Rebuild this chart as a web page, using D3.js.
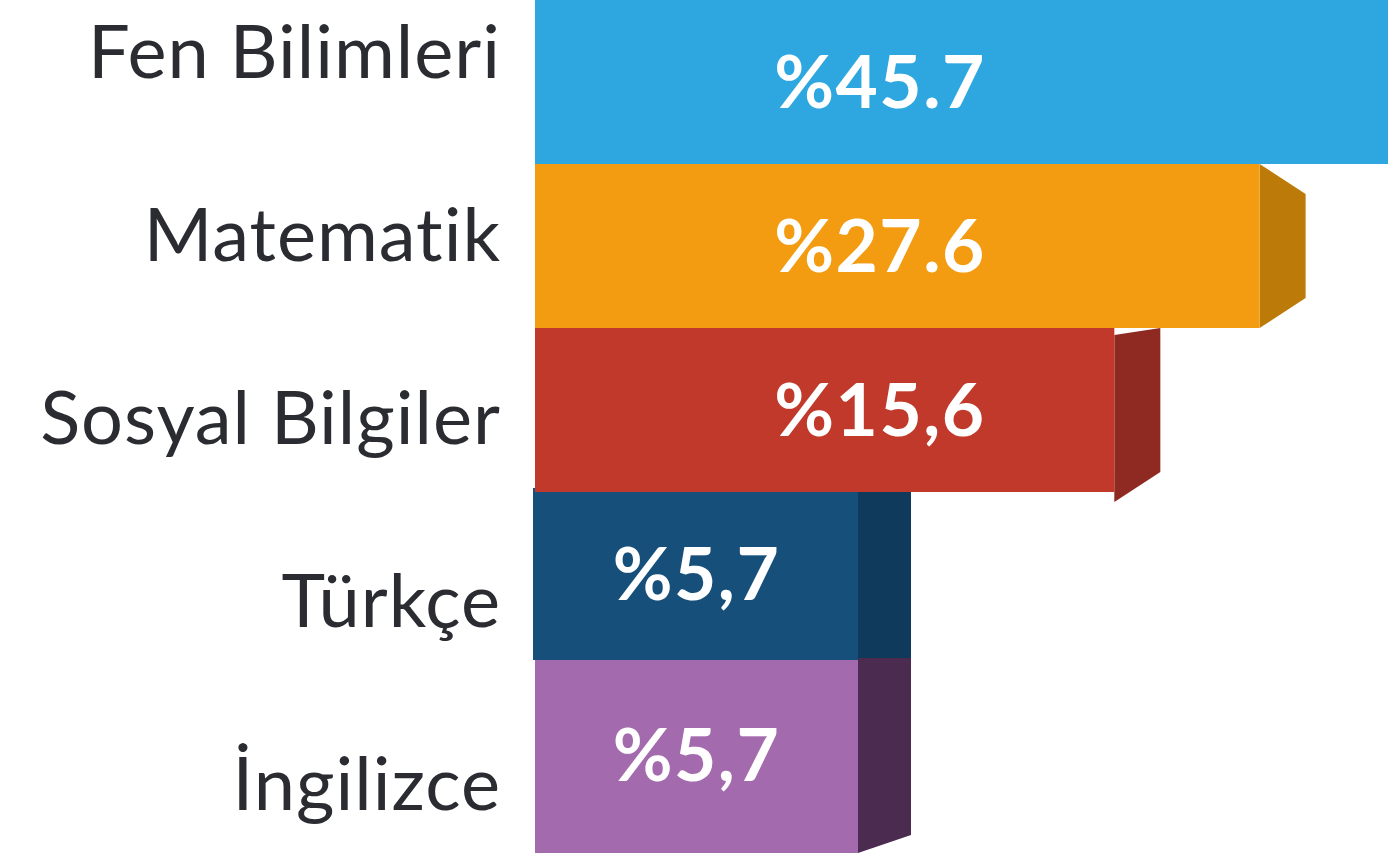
<!DOCTYPE html>
<html>
<head>
<meta charset="utf-8">
<script src="https://d3js.org/d3.v7.min.js"></script>
<style>
  * { margin: 0; padding: 0; box-sizing: border-box; }
  html, body { width: 1388px; height: 855px; overflow: hidden; background: #ffffff; }
  svg { display: block; }
  .cat-label { font-family: Lato, 'Open Sans', sans-serif; font-weight: 400; fill: #2a2c31; letter-spacing: 1px; }
  .val-label { font-family: Lato, 'Open Sans', sans-serif; font-weight: 700; fill: #ffffff; letter-spacing: 1.5px; }
</style>
</head>
<body>
<svg id="chart"></svg>
<script>
// data
const categories = ['Fen Bilimleri', 'Matematik', 'Sosyal Bilgiler', 'Türkçe', 'İngilizce'];
const values = [45.7, 27.6, 15.6, 5.7, 5.7];
const valueLabels = ['%45.7', '%27.6', '%15,6', '%5,7', '%5,7'];

// styles
const frontColors = ['#2ea7e0', '#f39c11', '#c0392b', '#16507a', '#a36aad'];
const sideColors = ['#1f7eab', '#bc7a08', '#8f2a22', '#103a5c', '#4c2b50'];
// side face shape: depth, left-top, right-top, right-bottom, left-bottom offsets
const sideShapes = [
  { depth: 46, lt: 0, rt: 30, rb: -30, lb: 0 },
  { depth: 46, lt: 0, rt: 30, rb: -30, lb: 0 },
  { depth: 46, lt: 7, rt: 0, rb: -20, lb: 10 },
  { depth: 53, lt: -8, rt: -8, rb: 2, lb: 2 },
  { depth: 53, lt: 0, rt: 0, rb: -18, lb: 0 }
];
const popOut = [0, 0, 0, 4, 0];

const width = 1388, height = 855;
const x0 = 535;
const labelRight = 501;

const svg = d3.select('#chart').attr('width', width).attr('height', height);

// bar lengths (picture uses a compressed scale)
const x = d3.scaleLog().domain([5.7, 45.7]).range([323, 853]);
const yBar = d3.scaleBand().domain(categories).range([0, 820]).padding(0);
const yLabel = d3.scaleBand().domain(categories).range([-40, 875]).padding(0);

const rows = categories.map((c, i) => {
  const top = yBar(c);
  const bottom = i < categories.length - 1 ? yBar(categories[i + 1]) : 853;
  return { cat: c, value: values[i], label: valueLabels[i], i, top, bottom, end: x0 + x(values[i]) };
});

const g = svg.append('g');

// draw bottom-up so upper bars overlap lower side faces
rows.slice().reverse().forEach(d => {
  const s = sideShapes[d.i];
  const p = popOut[d.i];
  const pts = [
    [d.end, d.top + s.lt],
    [d.end + s.depth, d.top + s.rt],
    [d.end + s.depth, d.bottom + s.rb],
    [d.end, d.bottom + s.lb]
  ];
  g.append('polygon')
    .attr('points', pts.map(q => q.join(',')).join(' '))
    .attr('fill', sideColors[d.i]);
  g.append('rect')
    .attr('x', x0 - p / 2)
    .attr('y', d.top - p)
    .attr('width', d.end - x0 + p / 2)
    .attr('height', d.bottom - d.top + 2 * p)
    .attr('fill', frontColors[d.i]);
});

// value labels inside bars
rows.forEach(d => {
  const len = d.end - x0;
  const cx = len > 400 ? 880 : x0 + len / 2;
  g.append('text')
    .attr('class', 'val-label')
    .attr('x', cx)
    .attr('y', (d.top + d.bottom) / 2 + 26)
    .attr('text-anchor', 'middle')
    .attr('font-size', 73)
    .text(d.label);
});

// category labels
g.selectAll('.cat-label')
  .data(categories)
  .join('text')
  .attr('class', 'cat-label')
  .attr('x', labelRight)
  .attr('y', c => yLabel(c) + yLabel.bandwidth() / 2 + 26)
  .attr('text-anchor', 'end')
  .attr('font-size', 74)
  .text(c => c);
</script>
</body>
</html>
